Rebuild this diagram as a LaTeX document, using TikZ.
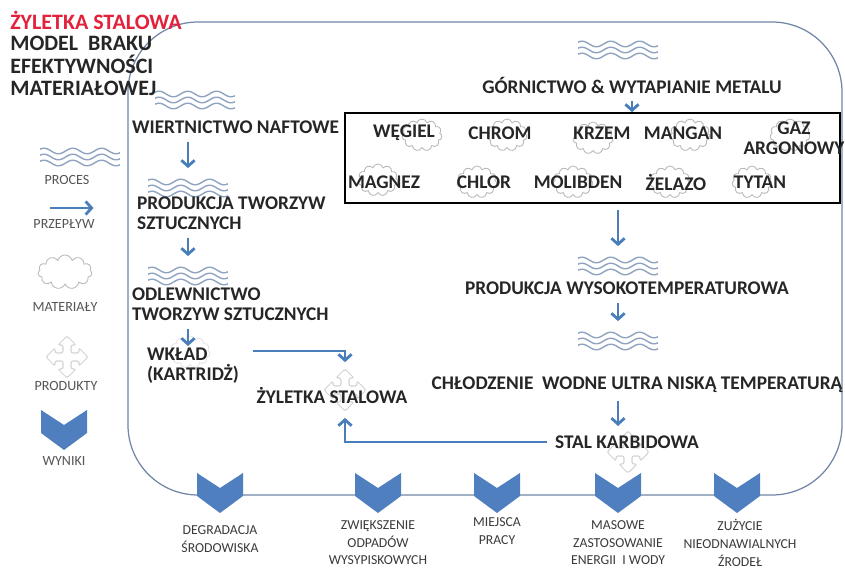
\documentclass[tikz,border=0pt]{standalone}
\usepackage{fontspec}
\setmainfont{Carlito}
\usetikzlibrary{arrows.meta,shapes.symbols}

\definecolor{flowblue}{HTML}{4A7EBB}
\definecolor{chevblue}{HTML}{4F7FBF}
\definecolor{wavegray}{HTML}{8FA3C0}
\definecolor{framecol}{HTML}{6F86A6}
\definecolor{titlered}{HTML}{E2213B}
\definecolor{txtdark}{HTML}{262626}
\definecolor{lbltxt}{HTML}{555555}
\definecolor{restxt}{HTML}{3A3A3A}

\tikzset{
  ttl/.style={font=\bfseries\fontsize{12.5}{13}\selectfont, text=txtdark, inner sep=0pt, align=left},
  proc/.style={font=\bfseries\fontsize{11}{11.5}\selectfont, text=txtdark, inner sep=1pt, align=left},
  matl/.style={font=\bfseries\fontsize{11}{11.5}\selectfont, text=txtdark, inner sep=1pt, align=center},
  lgd/.style={font=\fontsize{8}{9}\selectfont, text=lbltxt, inner sep=1pt},
  res/.style={font=\fontsize{7.8}{10}\selectfont, text=restxt, inner sep=1pt, align=center},
  cloudmat/.style={cloud, cloud puffs=11, aspect=1.3, draw=gray!55, line width=0.5pt,
    inner sep=0pt, minimum width=8mm, minimum height=6.4mm},
  flow/.style={-{Straight Barb[length=3.4pt,width=7.5pt]}, flowblue, line width=1.6pt,
    shorten <=1.2mm, shorten >=1.5mm},
  frame/.style={framecol, line width=0.7pt, rounded corners=14mm},
  waves/.style={minimum width=16mm, minimum height=4.8mm, inner sep=0pt, path picture={
    \foreach \dy in {-6,0,6}
      \draw[wavegray, line width=0.8pt, shift={(path picture bounding box.center)}]
        plot[variable=\t, domain=-40:40, samples=60, smooth] (\t,{\dy+2.8*sin(\t*12.5)});
  }},
  chev/.pic={\fill[chevblue] (-23,-20) -- (0,-5) -- (23,-20) -- (23,3) -- (0,20) -- (-23,3) -- cycle;},
  prod/.pic={\draw[gray!35, line width=0.6pt, rounded corners=0.4mm]
    (4,4) -- (4,12) -- (9,12) -- (0,21) -- (-9,12) -- (-4,12) -- (-4,4) -- (-12,4) -- (-12,9)
    -- (-21,0) -- (-12,-9) -- (-12,-4) -- (-4,-4) -- (-4,-12) -- (-9,-12) -- (0,-21) -- (9,-12)
    -- (4,-12) -- (4,-4) -- (12,-4) -- (12,-9) -- (21,0) -- (12,9) -- (12,4) -- cycle;}
}

\begin{document}
\begin{tikzpicture}[x=0.2mm, y=-0.2mm]
    \useasboundingbox (0,0) rectangle (845,571);
    \draw[frame] (128,22) rectangle (842,495);

    % title
    \node[ttl, text=titlered, anchor=west] (ttl) at (10,20) {ŻYLETKA STALOWA};
    \node[ttl, anchor=west] (ttlsub) at (10,66) {MODEL\ \ BRAKU\\EFEKTYWNOŚCI\\MATERIAŁOWEJ};

    % legend
    \node[waves] (lgwv) at (80,157) {};
    \node[lgd] (lgproc) at (67,180) {PROCES};
    \coordinate (lgfa) at (44,208);
    \coordinate (lgfb) at (101,208);
    \draw[flow] (lgfa) -- (lgfb);
    \node[lgd] (lgflow) at (64,224) {PRZEPŁYW};
    \node[cloudmat, minimum width=10.8mm, minimum height=6.8mm] (lgmat) at (65,272) {};
    \node[lgd] (lgmatl) at (65,307) {MATERIAŁY};
    \pic at (67,357) {prod};
    \node[lgd] (lgprod) at (66,386) {PRODUKTY};
    \pic at (64,430) {chev};
    \node[lgd] (lgres) at (64,461) {WYNIKI};

    % plastic line
    \node[waves] (wv1) at (195,100) {};
    \node[proc, anchor=west] (wiert) at (130,127) {WIERTNICTWO NAFTOWE};
    \node[waves] (wv2) at (188,188) {};
    \node[proc, anchor=west] (prodtw) at (135,213) {PRODUKCJA TWORZYW\\SZTUCZNYCH};
    \node[waves] (wv3) at (188,276) {};
    \node[proc, anchor=west] (odlew) at (130,304) {ODLEWNICTWO\\TWORZYW SZTUCZNYCH};
    \node[cloudmat, draw=gray!20] (cwklad) at (190,352) {};
    \node[proc, anchor=west] (wklad) at (145,366) {WKŁAD\\(KARTRIDŻ)};
    \draw[flow] (wiert.south -| wv2) -- (wv2.north);
    \draw[flow] (prodtw.south -| wv3) -- (wv3.north);
    \draw[flow, shorten >=0pt] (odlew.south -| wv3) -- (wklad.north -| wv3);

    % steel line
    \node[waves] (wv4) at (618,50) {};
    \node[proc] (gorn) at (632,85) {GÓRNICTWO \& WYTAPIANIE METALU};
    \node[draw=black, line width=0.9pt, minimum width=99mm, minimum height=18mm, inner sep=0pt] (matbox) at (592.5,158) {};
    \draw[flow, shorten >=0pt] (gorn.south) -- (gorn.south |- matbox.north);

    \node[cloudmat] (cwegiel) at (422,135) {};
    \node[cloudmat] (cchrom) at (507,135) {};
    \node[cloudmat] (ckrzem) at (593,138) {};
    \node[cloudmat] (cmangan) at (690,135) {};
    \node[cloudmat] (cgaz) at (790,135) {};
    \node[cloudmat] (cmagnez) at (378,180) {};
    \node[cloudmat] (cchlor) at (477,182) {};
    \node[cloudmat] (cmolib) at (573,182) {};
    \node[cloudmat] (czelazo) at (670,182) {};
    \node[cloudmat] (ctytan) at (752,182) {};
    \node[matl] (wegiel) at (404,133) {WĘGIEL};
    \node[matl] (chrom) at (500,133) {CHROM};
    \node[matl] (krzem) at (602,133) {KRZEM};
    \node[matl] (mangan) at (683,133) {MANGAN};
    \node[matl] (gaz) at (794,138) {GAZ\\ARGONOWY};
    \node[matl] (magnez) at (384,182) {MAGNEZ};
    \node[matl] (chlor) at (484,182) {CHLOR};
    \node[matl] (molib) at (578,182) {MOLIBDEN};
    \node[matl] (zelazo) at (676,182) {ŻELAZO};
    \node[matl] (tytan) at (760,182) {TYTAN};

    \node[waves] (wv5) at (618,266) {};
    \node[proc] (prodwys) at (627,288) {PRODUKCJA WYSOKOTEMPERATUROWA};
    \node[waves] (wv6) at (618,341) {};
    \node[proc] (chlod) at (637,385) {CHŁODZENIE\ \ WODNE ULTRA NISKĄ TEMPERATURĄ};
    \node[inner sep=0pt, minimum size=9mm] (stalcross) at (628,452) {};
    \pic at (stalcross) {prod};
    \node[proc] (stal) at (627,442) {STAL KARBIDOWA};
    \draw[flow] (matbox.south -| wv5) -- (wv5.north);
    \draw[flow] (prodwys.south -| wv6) -- (wv6.north);
    \draw[flow] (chlod.south -| wv6) -- (stal.north -| wv6);

    % product
    \node[inner sep=0pt, minimum size=8mm] (zylcross) at (345,390) {};
    \pic at (zylcross) {prod};
    \node[proc] (zylet) at (332,395) {ŻYLETKA STALOWA};
    \draw[flow] ([xshift=1.2mm,yshift=-1mm]wklad.north east) -| (zylcross.north);
    \draw[flow] (stal.west) -| (zylcross.south);

    % results
    \pic at (220,493) {chev};
    \pic at (378,493) {chev};
    \pic at (497,493) {chev};
    \pic at (618,493) {chev};
    \pic at (737,493) {chev};
    \node[res] (rdegr) at (220,539) {DEGRADACJA\\ŚRODOWISKA};
    \node[res] (rodpad) at (378,543) {ZWIĘKSZENIE\\ODPADÓW\\WYSYPISKOWYCH};
    \node[res] (rpraca) at (497,531) {MIEJSCA\\PRACY};
    \node[res] (renerg) at (618,543) {MASOWE\\ZASTOSOWANIE\\ENERGII\ \ I WODY};
    \node[res] (rzrodl) at (740,543) {ZUŻYCIE\\NIEODNAWIALNYCH\\ŹRODEŁ};
\end{tikzpicture}
\end{document}
